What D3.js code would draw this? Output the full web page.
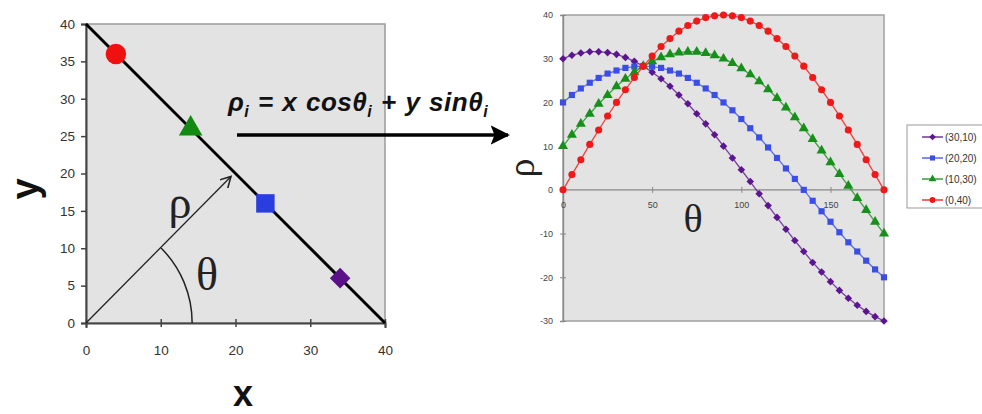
<!DOCTYPE html>
<html>
<head>
<meta charset="utf-8">
<script src="https://cdn.jsdelivr.net/npm/d3@7"></script>
<style>
  body { margin: 0; background: #fff; }
  svg { display: block; }
  text { font-family: "Liberation Sans", Arial, sans-serif; }
</style>
</head>
<body>
<svg id="chart" width="982" height="414"></svg>
<script>
// ---- data ----
// left panel: points lying on the line from (0,40) to (40,0)
var pointX = [4, 14, 24, 34];
var pointY = [36, 26, 16, 6];
var pointShape = ["circle", "triangle", "square", "diamond"];
var pointColor = ["#f01010", "#128a12", "#2a3ee0", "#5a1088"];
var lineX = [0, 40];
var lineY = [40, 0];
var leftTicks = [0, 5, 10, 15, 20, 25, 30, 35, 40];
var leftXTicks = [0, 10, 20, 30, 40];

// right panel: rho vs theta, one series per point
var theta = [0, 5, 10, 15, 20, 25, 30, 35, 40, 45, 50, 55, 60, 65, 70, 75, 80, 85, 90,
  95, 100, 105, 110, 115, 120, 125, 130, 135, 140, 145, 150, 155, 160, 165, 170, 175, 180];
var seriesNames = ["(30,10)", "(20,20)", "(10,30)", "(0,40)"];
var rho3010 = [30, 30.8, 31.3, 31.6, 31.6, 31.4, 31.0, 30.3, 29.4, 28.3, 26.9, 25.4, 23.7, 21.7, 19.7, 17.4, 15.1, 12.6, 10,
  7.3, 4.6, 1.9, -0.9, -3.6, -6.3, -9.0, -11.6, -14.1, -16.6, -18.8, -21.0, -23.0, -24.8, -26.4, -27.8, -29.0, -30];
var rho2020 = [20, 21.7, 23.2, 24.5, 25.6, 26.6, 27.3, 27.9, 28.2, 28.3, 28.2, 27.9, 27.3, 26.6, 25.6, 24.5, 23.2, 21.7, 20,
  18.2, 16.2, 14.1, 12.0, 9.7, 7.3, 4.9, 2.5, 0, -2.5, -4.9, -7.3, -9.7, -12.0, -14.1, -16.2, -18.2, -20];
var rho1030 = [10, 12.6, 15.1, 17.4, 19.7, 21.7, 23.7, 25.4, 26.9, 28.3, 29.4, 30.3, 31.0, 31.4, 31.6, 31.6, 31.3, 30.8, 30,
  29.0, 27.8, 26.4, 24.8, 23.0, 21.0, 18.8, 16.6, 14.1, 11.6, 9.0, 6.3, 3.6, 0.9, -1.9, -4.6, -7.3, -10];
var rho0040 = [0, 3.5, 6.9, 10.4, 13.7, 16.9, 20, 22.9, 25.7, 28.3, 30.6, 32.8, 34.6, 36.3, 37.6, 38.6, 39.4, 39.8, 40,
  39.8, 39.4, 38.6, 37.6, 36.3, 34.6, 32.8, 30.6, 28.3, 25.7, 22.9, 20, 16.9, 13.7, 10.4, 6.9, 3.5, 0];
var seriesValues = [rho3010, rho2020, rho1030, rho0040];
var seriesShape = ["diamond", "square", "triangle", "circle"];
var seriesColor = ["#5c1590", "#3a4ee6", "#16901a", "#f01818"];
var rightYTicks = [-30, -20, -10, 0, 10, 20, 30, 40];
var rightXTicks = [0, 50, 100, 150];

var svg = d3.select("#chart");

// marker shapes; the diamond is a square turned 45 degrees
function markerPath(shape, size) {
  if (shape === "diamond") {
    var h = Math.sqrt(size) / 2 * 1.3;
    return "M0," + (-h) + "L" + h + ",0L0," + h + "L" + (-h) + ",0Z";
  }
  var types = {circle: d3.symbolCircle, triangle: d3.symbolTriangle, square: d3.symbolSquare};
  return d3.symbol().type(types[shape]).size(size)();
}

// arrowheads
var defs = svg.append("defs");
defs.append("marker")
  .attr("id", "bigArrow")
  .attr("viewBox", "0 0 10 10")
  .attr("refX", 9).attr("refY", 5)
  .attr("markerWidth", 5.5).attr("markerHeight", 5.5)
  .attr("markerUnits", "strokeWidth")
  .attr("orient", "auto")
  .append("path")
  .attr("d", "M0,0L10,5L0,10L2,5Z")
  .attr("fill", "#000");
defs.append("marker")
  .attr("id", "openArrow")
  .attr("viewBox", "0 0 10 10")
  .attr("refX", 9).attr("refY", 5)
  .attr("markerWidth", 12).attr("markerHeight", 12)
  .attr("markerUnits", "userSpaceOnUse")
  .attr("orient", "auto")
  .append("path")
  .attr("d", "M0,0L9,5L0,10")
  .attr("fill", "none")
  .attr("stroke", "#222")
  .attr("stroke-width", 1.3);

// ================= left panel =================
var lx = d3.scaleLinear().domain([0, 40]).range([86, 385]);
var ly = d3.scaleLinear().domain([0, 40]).range([323, 24]);

var left = svg.append("g");
left.append("rect")
  .attr("x", lx(0)).attr("y", ly(40))
  .attr("width", lx(40) - lx(0)).attr("height", ly(0) - ly(40))
  .attr("fill", "#e3e3e3")
  .attr("stroke", "#9a9a9a")
  .attr("stroke-width", 1.5);

var lyAxis = left.append("g")
  .attr("transform", "translate(" + lx(0) + ",0)")
  .call(d3.axisLeft(ly).tickValues(leftTicks).tickSize(5).tickPadding(6));
var lxAxis = left.append("g")
  .attr("transform", "translate(0," + ly(0) + ")")
  .call(d3.axisBottom(lx).tickValues(leftXTicks).tickSize(5).tickPadding(17));
[lyAxis, lxAxis].forEach(function(a) {
  a.select(".domain").attr("stroke", "#444").attr("stroke-width", 2);
  a.selectAll(".tick line").attr("stroke", "#444").attr("stroke-width", 1.5);
  a.selectAll(".tick text").attr("fill", "#333").style("font-size", "13.5px");
});
// x ticks cross the axis
lxAxis.selectAll(".tick line").attr("y1", -4).attr("y2", 4);
lyAxis.selectAll(".tick line").attr("x1", -5).attr("x2", 0);

// the line through the points
left.append("path")
  .datum(d3.zip(lineX, lineY))
  .attr("fill", "none")
  .attr("stroke", "#000")
  .attr("stroke-width", 3)
  .attr("d", d3.line().x(function(d) { return lx(d[0]); }).y(function(d) { return ly(d[1]); }));

// rho arrow and theta arc
left.append("line")
  .attr("x1", lx(0)).attr("y1", ly(0))
  .attr("x2", lx(19.4)).attr("y2", ly(19.6))
  .attr("stroke", "#222").attr("stroke-width", 1.3)
  .attr("marker-end", "url(#openArrow)");
var arcR = lx(14.2) - lx(0);
left.append("path")
  .attr("transform", "translate(" + lx(0) + "," + ly(0) + ")")
  .attr("d", d3.arc()({innerRadius: arcR, outerRadius: arcR, startAngle: Math.PI / 4, endAngle: Math.PI / 2}))
  .attr("fill", "none")
  .attr("stroke", "#222")
  .attr("stroke-width", 1.5);
left.append("text")
  .attr("x", 180).attr("y", 218)
  .attr("text-anchor", "middle")
  .style("font-family", "'Liberation Serif', 'Times New Roman', serif")
  .style("font-size", "46px")
  .attr("fill", "#222")
  .text("ρ");
left.append("text")
  .attr("x", 207).attr("y", 290)
  .attr("text-anchor", "middle")
  .style("font-family", "'Liberation Serif', 'Times New Roman', serif")
  .style("font-size", "46px")
  .attr("fill", "#222")
  .text("θ");

// points
var pointSize = {circle: 330, triangle: 240, square: 340, diamond: 250};
left.selectAll(".pt")
  .data(pointX.map(function(d, i) { return i; }))
  .enter().append("path")
  .attr("class", "pt")
  .attr("transform", function(i) { return "translate(" + lx(pointX[i]) + "," + ly(pointY[i]) + ")"; })
  .attr("d", function(i) { return markerPath(pointShape[i], pointSize[pointShape[i]]); })
  .attr("fill", function(i) { return pointColor[i]; });

// axis titles
left.append("text")
  .attr("transform", "translate(38,189) rotate(-90)")
  .attr("text-anchor", "middle")
  .style("font-size", "38px").style("font-weight", "bold")
  .attr("fill", "#111")
  .text("y");
left.append("text")
  .attr("x", 243).attr("y", 406)
  .attr("text-anchor", "middle")
  .style("font-size", "36px").style("font-weight", "bold")
  .attr("fill", "#111")
  .text("x");

// ================= formula arrow =================
var formula = svg.append("text")
  .attr("x", 228).attr("y", 111)
  .style("font-size", "26px").style("font-weight", "bold").style("font-style", "italic")
  .style("letter-spacing", "0.5px").style("word-spacing", "1px")
  .attr("fill", "#111");
formula.append("tspan").text("ρ");
formula.append("tspan").attr("dy", 6).style("font-size", "16px").text("i");
formula.append("tspan").attr("dy", -6).text(" = x cosθ");
formula.append("tspan").attr("dy", 6).style("font-size", "16px").text("i");
formula.append("tspan").attr("dy", -6).text(" + y sinθ");
formula.append("tspan").attr("dy", 6).style("font-size", "16px").text("i");
svg.append("line")
  .attr("x1", 237).attr("y1", 135)
  .attr("x2", 508).attr("y2", 135)
  .attr("stroke", "#000").attr("stroke-width", 3.5)
  .attr("marker-end", "url(#bigArrow)");

// ================= right panel =================
var rx = d3.scaleLinear().domain([0, 180]).range([563, 884]);
var ry = d3.scaleLinear().domain([-30, 40]).range([321, 15]);

var right = svg.append("g");
right.append("rect")
  .attr("x", rx(0)).attr("y", ry(40))
  .attr("width", rx(180) - rx(0)).attr("height", ry(-30) - ry(40))
  .attr("fill", "#e3e3e3")
  .attr("stroke", "#a0a0a0")
  .attr("stroke-width", 1.5);

var ryAxis = right.append("g")
  .attr("transform", "translate(" + rx(0) + ",0)")
  .call(d3.axisLeft(ry).tickValues(rightYTicks).tickSize(3).tickPadding(7));
var rxAxis = right.append("g")
  .attr("transform", "translate(0," + ry(0) + ")")
  .call(d3.axisBottom(rx).tickValues(rightXTicks).tickSize(3).tickPadding(9));
[ryAxis, rxAxis].forEach(function(a) {
  a.select(".domain").attr("stroke", "#888").attr("stroke-width", 1.3);
  a.selectAll(".tick line").attr("stroke", "#888");
  a.selectAll(".tick text").attr("fill", "#444").style("font-size", "9px");
});
ryAxis.selectAll(".tick text").text(function(d) { return d < 0 ? "-" + (-d) : d; });
rxAxis.select(".domain").attr("d", "M" + rx(0) + ",0H" + rx(180));
rxAxis.selectAll(".tick line").attr("y1", -3).attr("y2", 3);
ryAxis.selectAll(".tick line").attr("x1", -3).attr("x2", 3);

// series
var rline = d3.line()
  .x(function(d) { return rx(d[0]); })
  .y(function(d) { return ry(d[1]); });
var seriesSize = {diamond: 34, square: 38, triangle: 44, circle: 40};
seriesValues.forEach(function(vals, s) {
  var pts = d3.zip(theta, vals);
  right.append("path")
    .datum(pts)
    .attr("fill", "none")
    .attr("stroke", seriesColor[s])
    .attr("stroke-opacity", 0.8)
    .attr("stroke-width", 1.3)
    .attr("d", rline);
  right.selectAll(".m" + s)
    .data(pts)
    .enter().append("path")
    .attr("class", "m" + s)
    .attr("transform", function(d) { return "translate(" + rx(d[0]) + "," + ry(d[1]) + ")"; })
    .attr("d", markerPath(seriesShape[s], seriesSize[seriesShape[s]]))
    .attr("fill", seriesColor[s]);
});

// axis titles
right.append("text")
  .attr("transform", "translate(534,168) rotate(-90)")
  .attr("text-anchor", "middle")
  .style("font-family", "'Liberation Serif', 'Times New Roman', serif")
  .style("font-size", "38px")
  .attr("fill", "#222")
  .text("ρ");
right.append("text")
  .attr("x", 693).attr("y", 232)
  .attr("text-anchor", "middle")
  .style("font-family", "'Liberation Serif', 'Times New Roman', serif")
  .style("font-size", "40px")
  .attr("fill", "#222")
  .text("θ");

// legend
var legend = svg.append("g").attr("transform", "translate(907,125)");
legend.append("rect")
  .attr("width", 80).attr("height", 83)
  .attr("fill", "#fff")
  .attr("stroke", "#999");
seriesNames.forEach(function(name, s) {
  var g = legend.append("g").attr("transform", "translate(0," + (12 + s * 21) + ")");
  g.append("line")
    .attr("x1", 15).attr("x2", 36)
    .attr("stroke", seriesColor[s]).attr("stroke-width", 1.3);
  g.append("path")
    .attr("transform", "translate(25.5,0)")
    .attr("d", markerPath(seriesShape[s], 26))
    .attr("fill", seriesColor[s]);
  g.append("text")
    .attr("x", 38).attr("y", 3.5)
    .style("font-size", "10px")
    .attr("fill", "#333")
    .text(name);
});
</script>
</body>
</html>
